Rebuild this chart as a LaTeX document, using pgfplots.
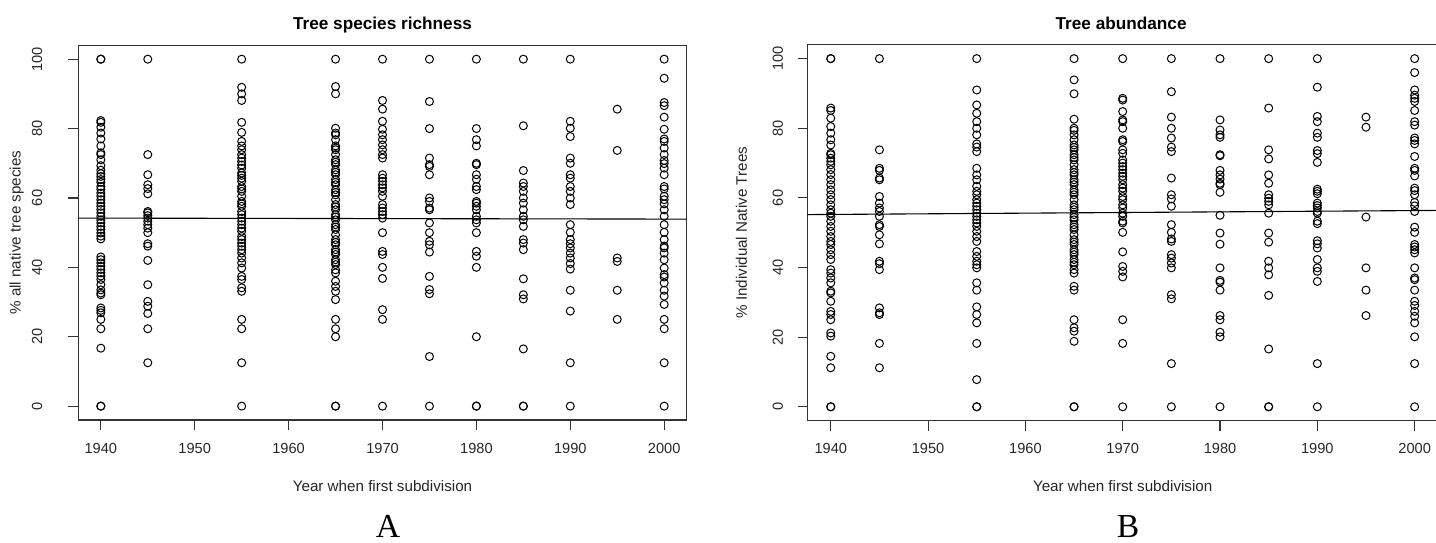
\documentclass[border=0pt]{standalone}
\usepackage{fontspec}
\setmainfont{Liberation Sans}
\newfontfamily\seriffont{Liberation Serif}
\usepackage{pgfplots}
\usepackage{pgfplotstable}
\pgfplotsset{compat=1.18}

\pgfplotstableread[row sep=\\]{
x y\\
1940 100\\ 1940 100\\ 1940 82.3\\ 1940 81.8\\ 1940 80.4\\ 1940 78.7\\ 1940 77\\ 1940 75\\ 1940 73\\ 1940 72.5\\ 1940 71\\ 1940 69.3\\ 1940 68\\ 1940 67\\ 1940 66.2\\ 1940 65.3\\ 1940 64.5\\ 1940 63.3\\ 1940 62.5\\ 1940 61.4\\ 1940 60.5\\ 1940 59.5\\ 1940 58.5\\ 1940 57.6\\ 1940 56.7\\ 1940 55.7\\ 1940 54.7\\ 1940 53.7\\ 1940 52.8\\ 1940 51.8\\ 1940 50.9\\ 1940 49.9\\ 1940 49\\ 1940 48.2\\ 1940 43\\ 1940 42.2\\ 1940 41.3\\ 1940 40.3\\ 1940 39.4\\ 1940 38.4\\ 1940 37.5\\ 1940 36.5\\ 1940 35\\ 1940 33.5\\ 1940 32.6\\ 1940 32.1\\ 1940 28.3\\ 1940 27.6\\ 1940 26.9\\ 1940 25\\ 1940 22.3\\ 1940 16.7\\ 1940 0\\ 1940 0\\
1945 100\\ 1945 72.5\\ 1945 66.7\\ 1945 63.8\\ 1945 62.7\\ 1945 61.2\\ 1945 56.1\\ 1945 55.7\\ 1945 54.9\\ 1945 54.2\\ 1945 53.3\\ 1945 52.3\\ 1945 51.3\\ 1945 50\\ 1945 46.8\\ 1945 46.1\\ 1945 42\\ 1945 35\\ 1945 30.2\\ 1945 28.8\\ 1945 26.7\\ 1945 22.3\\ 1945 12.5\\
1955 100\\ 1955 91.9\\ 1955 90\\ 1955 88.1\\ 1955 81.8\\ 1955 78.9\\ 1955 76.3\\ 1955 75\\ 1955 73.9\\ 1955 72.5\\ 1955 71.5\\ 1955 70.5\\ 1955 69.5\\ 1955 68.6\\ 1955 67.2\\ 1955 66.5\\ 1955 65.7\\ 1955 64.8\\ 1955 63.3\\ 1955 62.6\\ 1955 61.9\\ 1955 60.5\\ 1955 59\\ 1955 58.3\\ 1955 57.6\\ 1955 56.1\\ 1955 55.2\\ 1955 54.2\\ 1955 53.3\\ 1955 52.3\\ 1955 51.3\\ 1955 50.4\\ 1955 48.9\\ 1955 48\\ 1955 47\\ 1955 46.1\\ 1955 45.1\\ 1955 44.1\\ 1955 42.7\\ 1955 41.3\\ 1955 39.8\\ 1955 37.4\\ 1955 36.5\\ 1955 34.1\\ 1955 33.1\\ 1955 25\\ 1955 22.3\\ 1955 12.5\\ 1955 0\\
1965 100\\ 1965 92.1\\ 1965 90\\ 1965 80.1\\ 1965 78.7\\ 1965 78.2\\ 1965 76.8\\ 1965 75\\ 1965 74.4\\ 1965 73.9\\ 1965 72.5\\ 1965 71\\ 1965 70.3\\ 1965 69.6\\ 1965 68.1\\ 1965 67.4\\ 1965 66.7\\ 1965 65.3\\ 1965 64.5\\ 1965 63.8\\ 1965 62.4\\ 1965 61.6\\ 1965 60.9\\ 1965 59.5\\ 1965 58.1\\ 1965 57.4\\ 1965 56.6\\ 1965 55.2\\ 1965 54.5\\ 1965 53.7\\ 1965 52.3\\ 1965 51.6\\ 1965 50.9\\ 1965 49.4\\ 1965 48\\ 1965 47.2\\ 1965 46.5\\ 1965 45.1\\ 1965 44.4\\ 1965 43.7\\ 1965 42.2\\ 1965 41.5\\ 1965 40.8\\ 1965 39.3\\ 1965 38.4\\ 1965 36\\ 1965 34.5\\ 1965 33.1\\ 1965 30.7\\ 1965 25\\ 1965 22.3\\ 1965 20\\ 1965 0\\ 1965 0\\
1970 100\\ 1970 88.1\\ 1970 85.6\\ 1970 82.1\\ 1970 79.8\\ 1970 78.2\\ 1970 76.8\\ 1970 75.3\\ 1970 73.9\\ 1970 72.5\\ 1970 71.5\\ 1970 66.7\\ 1970 65.7\\ 1970 64.8\\ 1970 63.8\\ 1970 62.9\\ 1970 61.9\\ 1970 60.5\\ 1970 58.1\\ 1970 57.1\\ 1970 56.1\\ 1970 55.2\\ 1970 54.2\\ 1970 50\\ 1970 44.6\\ 1970 43.7\\ 1970 40\\ 1970 36.8\\ 1970 27.8\\ 1970 25\\ 1970 0\\
1975 100\\ 1975 87.8\\ 1975 80\\ 1975 71.5\\ 1975 69.6\\ 1975 69.1\\ 1975 66.7\\ 1975 60\\ 1975 59\\ 1975 57.1\\ 1975 56.6\\ 1975 52.8\\ 1975 50\\ 1975 47.5\\ 1975 46.5\\ 1975 44.4\\ 1975 37.4\\ 1975 33.6\\ 1975 32.4\\ 1975 14.3\\ 1975 0\\
1980 100\\ 1980 80\\ 1980 76.8\\ 1980 75\\ 1980 70\\ 1980 69.6\\ 1980 66.7\\ 1980 65.4\\ 1980 63.3\\ 1980 62.4\\ 1980 59\\ 1980 58.5\\ 1980 57.6\\ 1980 56.6\\ 1980 54.7\\ 1980 53.7\\ 1980 52.8\\ 1980 50\\ 1980 44.6\\ 1980 43.2\\ 1980 40\\ 1980 20\\ 1980 0\\ 1980 0\\
1985 100\\ 1985 80.8\\ 1985 67.9\\ 1985 64.3\\ 1985 63.3\\ 1985 61.9\\ 1985 60\\ 1985 58.5\\ 1985 56.6\\ 1985 54.7\\ 1985 53.7\\ 1985 51.8\\ 1985 48\\ 1985 47\\ 1985 45.1\\ 1985 36.7\\ 1985 32.1\\ 1985 30.9\\ 1985 16.5\\ 1985 0\\ 1985 0\\
1990 100\\ 1990 82.1\\ 1990 80.1\\ 1990 77.7\\ 1990 71.5\\ 1990 70\\ 1990 66.7\\ 1990 65.7\\ 1990 63.3\\ 1990 61.9\\ 1990 60\\ 1990 58.1\\ 1990 52.3\\ 1990 50.1\\ 1990 48\\ 1990 46.8\\ 1990 45.6\\ 1990 44.1\\ 1990 42.7\\ 1990 41.1\\ 1990 39.5\\ 1990 33.4\\ 1990 27.4\\ 1990 12.5\\ 1990 0\\
1995 85.6\\ 1995 73.7\\ 1995 42.7\\ 1995 41.7\\ 1995 33.4\\ 1995 25\\
2000 100\\ 2000 94.5\\ 2000 87.5\\ 2000 86.6\\ 2000 83.3\\ 2000 79.8\\ 2000 77\\ 2000 76.3\\ 2000 74.4\\ 2000 72.5\\ 2000 70.8\\ 2000 69.9\\ 2000 68.6\\ 2000 66.7\\ 2000 63.3\\ 2000 62.6\\ 2000 60.5\\ 2000 59.5\\ 2000 58.3\\ 2000 56.6\\ 2000 54.7\\ 2000 52.3\\ 2000 50.1\\ 2000 48\\ 2000 46.1\\ 2000 45.6\\ 2000 44.1\\ 2000 42.2\\ 2000 39.8\\ 2000 37.9\\ 2000 37.2\\ 2000 35.5\\ 2000 33.4\\ 2000 31.7\\ 2000 29.3\\ 2000 25\\ 2000 22.3\\ 2000 12.5\\ 2000 0\\
}\richness

\pgfplotstableread[row sep=\\]{
x y\\
1940 100\\ 1940 100\\ 1940 85.8\\ 1940 85.1\\ 1940 82.9\\ 1940 80.5\\ 1940 78.6\\ 1940 76.7\\ 1940 75.2\\ 1940 72.8\\ 1940 72.4\\ 1940 71.4\\ 1940 70.5\\ 1940 69.5\\ 1940 68.1\\ 1940 66.7\\ 1940 65.2\\ 1940 63.8\\ 1940 62.3\\ 1940 60.9\\ 1940 59.5\\ 1940 58\\ 1940 56.6\\ 1940 55.6\\ 1940 54.7\\ 1940 53.3\\ 1940 51.8\\ 1940 50.4\\ 1940 48.9\\ 1940 47.5\\ 1940 46.6\\ 1940 45.1\\ 1940 43.7\\ 1940 42.3\\ 1940 39.4\\ 1940 38.4\\ 1940 37\\ 1940 35.6\\ 1940 33.2\\ 1940 32.7\\ 1940 30.3\\ 1940 27.4\\ 1940 26.5\\ 1940 25\\ 1940 21.2\\ 1940 20.3\\ 1940 14.5\\ 1940 11.2\\ 1940 0\\ 1940 0\\
1945 100\\ 1945 73.8\\ 1945 68.5\\ 1945 67.9\\ 1945 65.7\\ 1945 65.2\\ 1945 60.4\\ 1945 58.5\\ 1945 57.1\\ 1945 56.1\\ 1945 54.7\\ 1945 52.3\\ 1945 51.8\\ 1945 49.4\\ 1945 46.8\\ 1945 41.8\\ 1945 41.1\\ 1945 39.4\\ 1945 28.4\\ 1945 27\\ 1945 26.5\\ 1945 18.2\\ 1945 11.2\\
1955 100\\ 1955 91\\ 1955 86.7\\ 1955 84.3\\ 1955 81.9\\ 1955 80\\ 1955 78.1\\ 1955 75.5\\ 1955 74.6\\ 1955 73.3\\ 1955 68.5\\ 1955 66.6\\ 1955 65.2\\ 1955 63.3\\ 1955 61.9\\ 1955 60.9\\ 1955 59.5\\ 1955 58.5\\ 1955 57.6\\ 1955 56.6\\ 1955 55.6\\ 1955 54.7\\ 1955 53.7\\ 1955 52.8\\ 1955 51.8\\ 1955 50.4\\ 1955 48.9\\ 1955 47.5\\ 1955 44.6\\ 1955 43.2\\ 1955 41.8\\ 1955 40.8\\ 1955 39.9\\ 1955 35.6\\ 1955 33.5\\ 1955 28.7\\ 1955 26.5\\ 1955 24.1\\ 1955 18.2\\ 1955 7.8\\ 1955 0\\ 1955 0\\
1965 100\\ 1965 93.9\\ 1965 89.9\\ 1965 82.6\\ 1965 80\\ 1965 79.4\\ 1965 78.1\\ 1965 76.7\\ 1965 75.2\\ 1965 74.5\\ 1965 73.8\\ 1965 72.4\\ 1965 71.6\\ 1965 70.9\\ 1965 69.5\\ 1965 68.1\\ 1965 67.3\\ 1965 66.6\\ 1965 65.2\\ 1965 64.5\\ 1965 63.8\\ 1965 62.3\\ 1965 61.6\\ 1965 60.9\\ 1965 59.5\\ 1965 58\\ 1965 57.3\\ 1965 56.6\\ 1965 55.2\\ 1965 54.4\\ 1965 53.7\\ 1965 52.3\\ 1965 51.6\\ 1965 50.9\\ 1965 49.4\\ 1965 48\\ 1965 47.3\\ 1965 46.6\\ 1965 45.1\\ 1965 44.4\\ 1965 43.7\\ 1965 42.3\\ 1965 41.5\\ 1965 40.8\\ 1965 39.4\\ 1965 38.4\\ 1965 34.6\\ 1965 33.5\\ 1965 25\\ 1965 22.7\\ 1965 21.7\\ 1965 18.8\\ 1965 0\\ 1965 0\\
1970 100\\ 1970 88.6\\ 1970 88.1\\ 1970 84.8\\ 1970 82.4\\ 1970 81.9\\ 1970 80\\ 1970 76.7\\ 1970 76.2\\ 1970 73.8\\ 1970 72.8\\ 1970 70.9\\ 1970 70\\ 1970 69\\ 1970 68.1\\ 1970 67.1\\ 1970 66.2\\ 1970 65.2\\ 1970 63.8\\ 1970 62.8\\ 1970 61.9\\ 1970 60.4\\ 1970 59.5\\ 1970 58\\ 1970 57.1\\ 1970 55.6\\ 1970 54.7\\ 1970 53.3\\ 1970 52.8\\ 1970 50.1\\ 1970 44.5\\ 1970 40.3\\ 1970 38.9\\ 1970 37.3\\ 1970 25\\ 1970 18.2\\ 1970 0\\
1975 100\\ 1975 90.5\\ 1975 83.2\\ 1975 80\\ 1975 77.2\\ 1975 74.6\\ 1975 73.3\\ 1975 65.7\\ 1975 60.9\\ 1975 59.7\\ 1975 57.6\\ 1975 52.3\\ 1975 50.1\\ 1975 48.2\\ 1975 47.5\\ 1975 43.7\\ 1975 42.7\\ 1975 41.3\\ 1975 39.9\\ 1975 32.2\\ 1975 31\\ 1975 12.4\\ 1975 0\\
1980 100\\ 1980 82.4\\ 1980 79.5\\ 1980 78.1\\ 1980 77.4\\ 1980 72.4\\ 1980 72.1\\ 1980 67.9\\ 1980 66.6\\ 1980 65.4\\ 1980 64.2\\ 1980 63.8\\ 1980 61.6\\ 1980 55\\ 1980 49.9\\ 1980 46.7\\ 1980 39.9\\ 1980 36.3\\ 1980 35.8\\ 1980 33.5\\ 1980 26.2\\ 1980 25\\ 1980 21.4\\ 1980 20.1\\ 1980 0\\
1985 100\\ 1985 85.8\\ 1985 73.8\\ 1985 71.2\\ 1985 66.6\\ 1985 64.2\\ 1985 60.9\\ 1985 59.9\\ 1985 59\\ 1985 58\\ 1985 55.6\\ 1985 49.9\\ 1985 47.3\\ 1985 41.8\\ 1985 39.9\\ 1985 37.9\\ 1985 32\\ 1985 16.6\\ 1985 0\\ 1985 0\\
1990 100\\ 1990 91.8\\ 1990 83.4\\ 1990 81.9\\ 1990 78.6\\ 1990 77.4\\ 1990 73.6\\ 1990 72.7\\ 1990 70.2\\ 1990 62.5\\ 1990 61.9\\ 1990 61.2\\ 1990 58.5\\ 1990 57.8\\ 1990 57.1\\ 1990 56.1\\ 1990 55.6\\ 1990 53.3\\ 1990 52.6\\ 1990 47.7\\ 1990 46.8\\ 1990 45.6\\ 1990 42.3\\ 1990 39.9\\ 1990 38.9\\ 1990 36\\ 1990 12.4\\ 1990 0\\
1995 83.2\\ 1995 80.3\\ 1995 54.5\\ 1995 39.9\\ 1995 33.5\\ 1995 26.2\\
2000 100\\ 2000 96\\ 2000 91\\ 2000 89.5\\ 2000 88.6\\ 2000 87.7\\ 2000 85.1\\ 2000 81.9\\ 2000 80.9\\ 2000 77.2\\ 2000 76.5\\ 2000 75.5\\ 2000 71.9\\ 2000 68.5\\ 2000 67.9\\ 2000 66.3\\ 2000 62.8\\ 2000 62.1\\ 2000 60.9\\ 2000 58.7\\ 2000 57.7\\ 2000 56.1\\ 2000 51.6\\ 2000 50.1\\ 2000 46.6\\ 2000 45.9\\ 2000 45.1\\ 2000 44.2\\ 2000 39.9\\ 2000 37\\ 2000 36.5\\ 2000 33.5\\ 2000 30.3\\ 2000 29.1\\ 2000 27.4\\ 2000 26\\ 2000 24.1\\ 2000 20.1\\ 2000 12.4\\ 2000 0\\
}\abundance

\pgfplotsset{
  rstyle/.style={
    scale only axis,
    anchor=south west,
    xmin=1937.6, xmax=2002.4, ymin=-4, ymax=104,
    xtick={1940,1950,...,2000}, ytick={0,20,...,100},
    minor tick num=0,
    xtick pos=bottom, ytick pos=left,
    tick align=outside,
    axis line style={black!80, line width=0.55pt},
    every tick/.style={black!80, line width=0.55pt},
    major tick length=4.9pt,
    /pgf/number format/assume math mode=true,
    /pgf/number format/1000 sep={},
    tick label style={font=\fontsize{7.3}{8.5}\selectfont, inner sep=0pt, black!85},
    xticklabel style={anchor=north},
    yticklabel style={rotate=90, anchor=south},
    xticklabel shift=6.45pt,
    label style={font=\fontsize{7.6}{9}\selectfont, inner sep=0pt, black!85},
    xlabel style={anchor=base},
    ylabel style={anchor=base},
    title style={font=\fontsize{8.6}{10}\selectfont\bfseries, inner sep=0pt, anchor=base, yshift=-6pt},
    xlabel={Year when first subdivision},
  },
  pts/.style={only marks, mark=o, mark size=2pt, black, mark options={line width=0.5pt}},
  fit/.style={no marks, black, line width=0.55pt},
}

\begin{document}
\begin{tikzpicture}
\path[use as bounding box] (0,0) rectangle (718pt,271pt);

\begin{axis}[rstyle,
  at={(39.15pt,61pt)}, width=304.2pt, height=187.35pt,
  yticklabel shift=12.9pt,
  title={Tree species richness},
  title style={at={(axis description cs:0.5,1.0427)}},
  xlabel style={at={(axis description cs:0.5,-0.1914)}},
  ylabel={\% all native tree species},
  ylabel style={at={(axis description cs:-0.0950,0.5)}},
]
\addplot[pts] table[x=x, y=y] {\richness};
\addplot[fit] coordinates {(1937.6,54.2) (2002.4,53.9)};
\end{axis}

\begin{axis}[rstyle,
  at={(403.7pt,60.65pt)}, width=315.3pt, height=188pt,
  yticklabel shift=7.15pt,
  title={Tree abundance},
  title style={at={(axis description cs:0.4975,1.041)}},
  xlabel style={at={(axis description cs:0.5,-0.1888)}},
  ylabel={\% Individual Native Trees},
  ylabel style={at={(axis description cs:-0.0958,0.5)}},
]
\addplot[pts] table[x=x, y=y] {\abundance};
\addplot[fit] coordinates {(1937.6,55.2) (2002.4,56.4)};
\end{axis}

\node[anchor=base, inner sep=0pt, font=\seriffont\fontsize{16.8}{18}\selectfont] at (194pt,2.5pt) {A};
\node[anchor=base, inner sep=0pt, font=\seriffont\fontsize{16.8}{18}\selectfont] at (564pt,2.5pt) {B};
\end{tikzpicture}
\end{document}
